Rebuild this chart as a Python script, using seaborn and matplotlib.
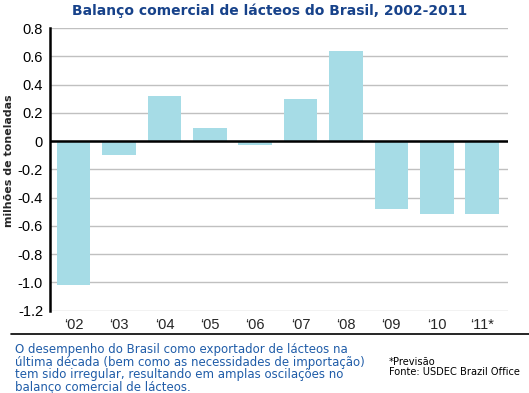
import matplotlib
matplotlib.use("Agg")
import matplotlib.pyplot as plt
import seaborn as sns
import pandas as pd
from matplotlib.lines import Line2D

years = ["\u201802", "\u201803", "\u201804", "\u201805", "\u201806", "\u201807", "\u201808", "\u201809", "\u201810", "\u201811*"]
balance = [-1.02, -0.10, 0.32, 0.09, -0.03, 0.30, 0.64, -0.48, -0.515, -0.515]
yticks = [0.8, 0.6, 0.4, 0.2, 0, -0.2, -0.4, -0.6, -0.8, -1.0, -1.2]
ytick_labels = ["0.8", "0.6", "0.4", "0.2", "0", "-0.2", "-0.4", "-0.6", "-0.8", "-1.0", "-1.2"]

title = "Balanço comercial de lácteos do Brasil, 2002-2011"
ylabel = "milhões de toneladas"
caption = ("O desempenho do Brasil como exportador de lácteos na\n"
           "última década (bem como as necessidades de importação)\n"
           "tem sido irregular, resultando em amplas oscilações no\n"
           "balanço comercial de lácteos.")
note = "*Previsão\nFonte: USDEC Brazil Office"

df = pd.DataFrame({"year": years, "balance": balance})

sns.set_style("white")
plt.rcParams['font.family'] = ['DejaVu Sans']

fig = plt.figure(figsize=(5.29, 3.93), dpi=100)
ax = fig.add_axes([50/529, 1 - 310.5/393, 458/529, (310.5 - 28)/393])

ax.set_axisbelow(True)
ax.yaxis.grid(True, color="#c0c0c0", linewidth=1.0)
ax.xaxis.grid(False)

sns.barplot(data=df, x="year", y="balance", color="#a6dce6", width=0.74,
            saturation=1, ax=ax, edgecolor="none")

ax.axhline(0, color="black", linewidth=1.8, zorder=3)
ax.set_ylim(-1.2, 0.8)
ax.set_xlim(-0.52, 9.57)
ax.set_yticks(yticks)
ax.set_yticklabels(ytick_labels, fontfamily="Liberation Sans", fontsize=10.5, color="black")
ax.tick_params(axis="y", length=0, pad=5)
for lab in ax.get_xticklabels():
    lab.set_fontfamily("Liberation Sans")
    lab.set_fontsize(10.5)
ax.tick_params(axis="x", length=0, pad=5.5)
ax.set_xlabel("")
ax.set_ylabel(ylabel, fontsize=7.9, fontweight="bold")
ax.yaxis.set_label_coords(-0.078, 0.53)

for s in ["top", "right", "bottom"]:
    ax.spines[s].set_visible(False)
ax.spines["left"].set_color("black")
ax.spines["left"].set_linewidth(1.8)

fig.text(270/529, 1 - 11/393, title, ha="center", va="center",
         fontsize=10, fontweight="bold", color="#17428a")

fig.add_artist(Line2D([11/529, 1], [1 - 334/393, 1 - 334/393], color="black",
                      linewidth=1.2, transform=fig.transFigure))

fig.text(15/529, 1 - 343/393, caption, ha="left", va="top", fontsize=8.5,
         color="#1f5ca8", linespacing=0.96)
fig.text(389/529, 1 - 357/393, note, ha="left", va="top", fontsize=7.1,
         color="black", linespacing=1.0)

fig.savefig("out.png", dpi=100, facecolor="white")
